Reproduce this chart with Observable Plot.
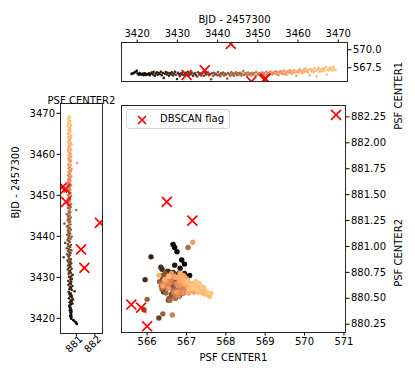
<!DOCTYPE html>
<html><head><meta charset="utf-8">
<script src="https://cdn.jsdelivr.net/npm/d3@7"></script>
<script src="https://cdn.jsdelivr.net/npm/@observablehq/plot@0.6"></script>
<style>
body{margin:0;background:#fff;}
#wrap{position:relative;width:415px;height:378px;font-family:"DejaVu Sans",sans-serif;font-size:10px;color:#000;}
#wrap svg.plotpanel{position:absolute;left:0;top:0;}
#legend{position:absolute;left:126px;top:109px;width:104px;height:20px;border:1px solid #d6d6d6;border-radius:3px;background:rgba(255,255,255,0.8);box-sizing:border-box;}
#legend span{position:absolute;left:33px;top:3px;font-size:10px;}
#legend svg{position:absolute;left:9px;top:4px;}
</style></head><body><div id="wrap"></div>
<script>
// ---- data ----
const bjd = [
3418.6,3418.9,3419.1,3419.4,3419.6,3419.9,3420.1,3420.4,3420.6,3420.9,
3421.1,3421.4,3421.6,3421.9,3422.1,3422.4,3422.6,3422.9,3423.1,3423.4,
3423.6,3423.9,3424.1,3424.4,3424.6,3424.9,3425.1,3425.4,3425.6,3425.9,
3426.1,3426.4,3426.6,3426.9,3427.1,3427.4,3427.6,3427.9,3428.1,3428.4,
3428.6,3428.9,3429.1,3429.4,3429.6,3429.9,3430.1,3430.4,3430.6,3430.9,
3431.1,3431.4,3431.6,3431.9,3432.1,3432.4,3432.6,3432.9,3433.1,3433.4,
3433.6,3433.9,3434.1,3434.4,3434.6,3434.9,3435.1,3435.4,3435.6,3435.9,
3436.1,3436.4,3436.6,3436.9,3437.1,3437.4,3437.6,3437.9,3438.1,3438.4,
3438.6,3438.9,3439.1,3439.4,3439.6,3439.9,3440.1,3440.4,3440.6,3440.9,
3441.1,3441.4,3441.6,3441.9,3442.1,3442.4,3442.6,3442.9,3443.1,3443.4,
3443.6,3443.9,3444.1,3444.4,3444.6,3444.9,3445.1,3445.4,3445.6,3445.9,
3446.1,3446.4,3446.6,3446.9,3447.1,3447.4,3447.6,3447.9,3448.1,3448.4,
3448.6,3448.9,3449.1,3449.4,3449.6,3449.9,3450.1,3450.4,3450.6,3450.9,
3451.1,3451.4,3451.6,3451.9,3452.1,3452.4,3452.6,3452.9,3453.1,3453.4,
3453.6,3453.9,3454.1,3454.4,3454.6,3454.9,3455.1,3455.4,3455.6,3455.9,
3456.1,3456.4,3456.6,3456.9,3457.1,3457.4,3457.6,3457.9,3458.1,3458.4,
3458.6,3458.9,3459.1,3459.4,3459.6,3459.9,3460.1,3460.4,3460.6,3460.9,
3461.1,3461.4,3461.6,3461.9,3462.1,3462.4,3462.6,3462.9,3463.1,3463.4,
3463.6,3463.9,3464.1,3464.4,3464.6,3464.9,3465.1,3465.4,3465.6,3465.9,
3466.1,3466.4,3466.6,3466.9,3467.1,3467.4,3467.6,3467.9,3468.1,3468.4,
3468.6,3468.8,3469.0,3469.3];
const center1 = [
566.66,566.70,566.76,566.88,566.95,567.08,566.70,566.55,566.78,566.62,
566.55,566.70,566.48,566.75,566.50,566.62,566.58,566.72,566.46,566.66,
566.84,566.58,566.95,566.40,566.70,566.88,566.52,566.76,566.64,566.96,
566.48,566.78,566.10,566.66,566.92,566.56,566.82,566.38,566.72,566.60,
566.86,566.44,566.70,566.94,566.54,565.95,566.80,566.62,566.35,566.74,
566.58,566.90,566.46,566.68,566.80,566.52,566.96,566.42,566.70,566.60,
566.84,566.36,566.64,566.76,566.50,566.30,566.88,566.56,566.72,566.44,
566.66,566.92,566.40,566.78,566.54,566.70,566.86,566.48,566.62,565.92,
566.74,566.38,566.82,566.58,566.68,566.46,566.90,566.56,566.32,566.76,
566.60,566.84,566.44,566.70,566.52,566.00,566.78,566.62,566.40,566.86,
566.54,566.72,566.36,566.66,566.88,566.48,566.74,566.58,566.80,566.42,
566.68,567.04,566.50,566.76,566.62,566.40,566.84,566.56,566.70,566.46,
566.82,566.60,566.74,566.36,566.90,566.54,566.68,566.78,566.48,566.64,
566.86,566.52,566.72,566.44,566.94,566.62,566.80,566.58,566.98,566.70,
566.56,566.88,566.74,567.02,566.64,566.92,566.48,566.80,567.06,566.70,
566.96,566.62,567.10,566.84,566.54,567.00,566.76,567.16,566.88,566.68,
567.04,566.82,567.20,566.92,566.40,567.12,566.86,567.28,566.98,567.06,
566.76,567.24,566.94,567.36,567.08,566.84,567.18,566.45,567.30,567.00,
567.14,566.90,567.42,567.06,566.30,567.26,567.48,566.96,567.20,567.34,
567.02,567.44,567.16,567.58,566.55,567.30,567.12,567.52,567.24,567.40,
567.08,567.62,567.32,567.20];
const center2 = [
881.02,880.99,880.95,880.87,880.83,880.72,880.70,880.74,880.66,880.72,
880.70,880.68,880.74,880.64,880.72,880.66,880.68,880.62,880.62,880.70,
880.79,880.64,880.74,880.70,880.82,880.60,880.76,880.67,880.73,880.63,
880.69,880.58,880.90,880.75,880.62,880.71,880.66,880.78,880.57,880.70,
880.64,880.72,880.56,880.68,880.76,880.68,880.60,880.73,880.80,880.58,
880.70,880.62,880.66,880.54,880.74,880.60,880.68,880.56,880.64,880.72,
880.58,880.66,880.52,880.70,880.61,880.31,880.57,880.64,880.50,880.68,
880.62,880.55,880.72,880.60,880.48,880.66,880.58,880.70,880.54,880.39,
880.64,880.59,880.52,880.68,880.56,880.74,880.60,880.50,880.66,880.57,
880.62,880.54,880.70,880.58,880.64,880.49,880.56,880.68,880.35,880.60,
880.66,880.52,880.62,880.57,880.70,880.55,880.63,880.48,880.60,880.67,
880.58,880.99,880.64,880.54,880.68,880.60,880.56,880.72,880.50,880.62,
880.57,880.66,880.53,880.64,880.60,880.70,880.55,880.62,880.68,880.34,
880.60,880.67,880.55,880.63,880.58,880.71,880.52,880.65,880.60,880.56,
880.68,880.57,880.64,880.60,880.72,880.55,880.66,880.62,880.58,880.70,
880.63,880.74,880.58,880.66,880.60,880.69,880.56,881.04,880.64,880.71,
880.60,880.67,880.56,880.72,880.62,880.58,880.69,880.61,880.65,880.55,
880.70,880.59,880.66,880.57,880.63,880.74,880.60,880.68,880.56,880.64,
880.61,880.69,880.55,880.65,880.72,880.58,880.54,880.66,880.62,880.57,
880.67,880.60,880.64,880.52,880.71,880.58,880.63,880.56,880.66,880.61,
880.59,880.55,880.64,880.60];
const flagBjd = [3432.3, 3436.8, 3443.3, 3448.4, 3451.6, 3451.9];
const flagCenter1 = [566.5, 567.15, 570.8, 565.6, 565.85, 566.0];
const flagCenter2 = [881.43, 881.25, 882.27, 880.44, 880.41, 880.23];
const bjdTicks = [3420, 3430, 3440, 3450, 3460, 3470];
const center1TopTicks = [567.5, 570.0];
const center1Ticks = [566, 567, 568, 569, 570, 571];
const center2Ticks = [880.25, 880.5, 880.75, 881.0, 881.25, 881.5, 881.75, 882.0, 882.25];
const center2LeftTicks = [881, 882];
const bjdLabel = "BJD - 2457300";
const c1Label = "PSF CENTER1";
const c2Label = "PSF CENTER2";
const legendLabel = "DBSCAN flag";

// ---- build tables ----
const points = bjd.map((t, i) => ({t, c1: center1[i], c2: center2[i]}));
const flags = flagBjd.map((t, i) => ({t, c1: flagCenter1[i], c2: flagCenter2[i]}));

const W = 415, H = 378;
const copper = x => d3.rgb(Math.min(255, 318.75 * x), 199.2 * x, 126.9 * x).toString();
const colorOpt = {type: "linear", domain: d3.extent(bjd), interpolate: copper};
const style = {background: "transparent", fontFamily: "DejaVu Sans, sans-serif", fontSize: "10px", color: "#000", overflow: "visible"};
const frameStroke = "#262626";
const flagStyle = {symbol: "times", stroke: "red", strokeWidth: 1.7, r: 4.6, clip: true};
const tick = {tickSize: 3.5, tickPadding: 2, label: null};

// top panel: BJD vs PSF CENTER1
const topPlot = Plot.plot({
  width: W, height: H, marginLeft: 121, marginRight: 68, marginTop: 42, marginBottom: 297,
  style, color: colorOpt,
  x: {domain: [3416.1, 3472.3]},
  y: {domain: [565.6, 571.0]},
  marks: [
    Plot.dot(points, {x: "t", y: "c1", fill: "t", r: 1.3, clip: true}),
    Plot.dot(flags, {x: "t", y: "c1", ...flagStyle}),
    Plot.frame({stroke: frameStroke}),
    Plot.axisX({anchor: "top", ticks: bjdTicks, tickFormat: d3.format("d"), ...tick}),
    Plot.axisY({anchor: "right", ticks: center1TopTicks, tickFormat: d3.format(".1f"), ...tick}),
    Plot.text([bjdLabel], {frameAnchor: "top", dy: -27, text: d => d}),
    Plot.text([c1Label], {frameAnchor: "right", dx: 51, rotate: -90, text: d => d})
  ]
});

// main panel: PSF CENTER1 vs PSF CENTER2
const mainPlot = Plot.plot({
  width: W, height: H, marginLeft: 121, marginRight: 70, marginTop: 105, marginBottom: 46,
  style, color: colorOpt,
  x: {domain: [565.35, 571.04]},
  y: {domain: [880.17, 882.36]},
  marks: [
    Plot.dot(points, {x: "c1", y: "c2", fill: "t", r: 2.7, clip: true}),
    Plot.dot(flags, {x: "c1", y: "c2", ...flagStyle}),
    Plot.frame({stroke: frameStroke}),
    Plot.axisX({anchor: "bottom", ticks: center1Ticks, tickFormat: d3.format("d"), ...tick}),
    Plot.axisY({anchor: "right", ticks: center2Ticks, tickFormat: d3.format(".2f"), ...tick}),
    Plot.text([c1Label], {frameAnchor: "bottom", dy: 28, text: d => d}),
    Plot.text([c2Label], {frameAnchor: "right", dx: 53, rotate: -90, text: d => d})
  ]
});

// left panel: PSF CENTER2 vs BJD
const leftPlot = Plot.plot({
  width: W, height: H, marginLeft: 60, marginRight: 313, marginTop: 103, marginBottom: 45,
  style, color: colorOpt,
  x: {domain: [880.14, 882.41]},
  y: {domain: [3416.3, 3472.4]},
  marks: [
    Plot.dot(points, {x: "c2", y: "t", fill: "t", r: 1.3, clip: true}),
    Plot.dot(flags, {x: "c2", y: "t", ...flagStyle}),
    Plot.frame({stroke: frameStroke}),
    Plot.axisY({anchor: "left", ticks: bjdTicks, tickFormat: d3.format("d"), ...tick}),
    Plot.axisX({anchor: "bottom", ticks: center2LeftTicks, tickFormat: () => "", ...tick}),
    Plot.text(center2LeftTicks, {x: d => d, frameAnchor: "bottom", dy: 13, rotate: -45, textAnchor: "middle", text: d => String(d)}),
    Plot.text([c2Label], {frameAnchor: "top", dy: -6.5, text: d => d}),
    Plot.text([bjdLabel], {frameAnchor: "left", dx: -45, rotate: -90, text: d => d})
  ]
});

const wrap = document.getElementById("wrap");
for (const p of [leftPlot, topPlot, mainPlot]) { p.classList.add("plotpanel"); wrap.appendChild(p); }
const legend = document.createElement("div");
legend.id = "legend";
legend.innerHTML = '<svg width="12" height="12"><path d="M2,2L10,10M10,2L2,10" stroke="red" stroke-width="1.7" fill="none"/></svg><span></span>';
legend.querySelector("span").textContent = legendLabel;
wrap.appendChild(legend);
</script></body></html>
